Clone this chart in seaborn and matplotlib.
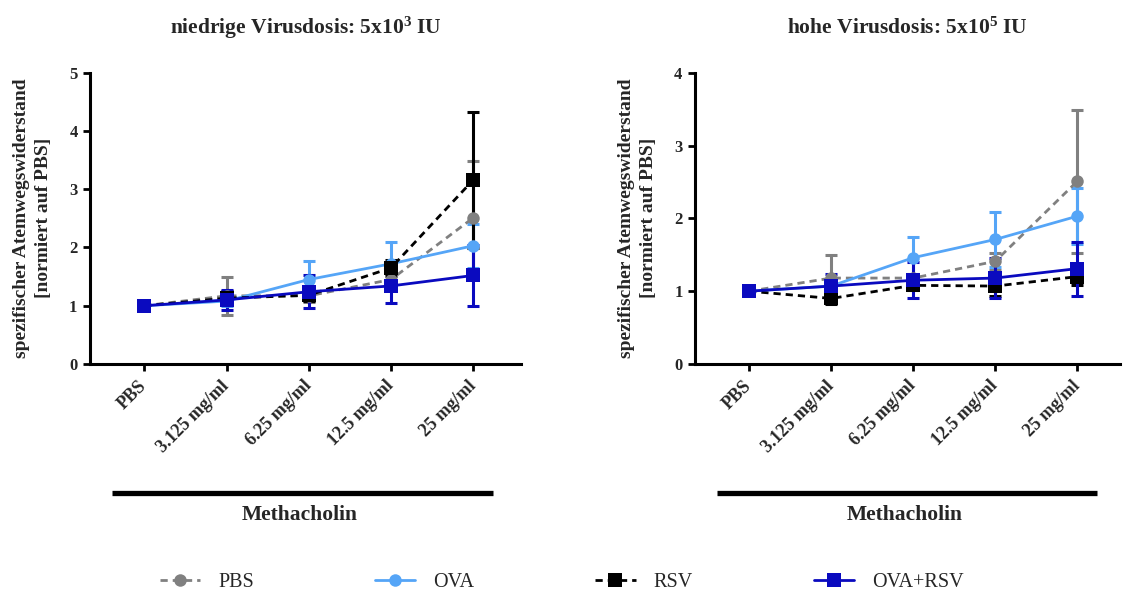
import matplotlib
matplotlib.use("Agg")
import matplotlib.pyplot as plt
from matplotlib.lines import Line2D
import seaborn as sns
import numpy as np

# Methacholin concentrations on the x axis
categories = ["PBS", "3.125 mg/ml", "6.25 mg/ml", "12.5 mg/ml", "25 mg/ml"]
groups = ["PBS", "OVA", "RSV", "OVA+RSV"]

# Low virus dose (5x10^3 IU): mean and SEM per group
pbs_low = [1.00, 1.17, 1.17, 1.45, 2.51]
pbs_low_err = [0.00, 0.33, 0.10, 0.10, 0.98]
ova_low = [1.00, 1.08, 1.45, 1.72, 2.03]
ova_low_err = [0.00, 0.08, 0.32, 0.38, 0.38]
rsv_low = [1.00, 1.13, 1.18, 1.65, 3.16]
rsv_low_err = [0.00, 0.12, 0.10, 0.14, 1.17]
ovarsv_low = [1.00, 1.10, 1.24, 1.34, 1.52]
ovarsv_low_err = [0.00, 0.17, 0.28, 0.29, 0.53]

# High virus dose (5x10^5 IU): mean and SEM per group
pbs_high = [1.00, 1.18, 1.18, 1.41, 2.51]
pbs_high_err = [0.00, 0.32, 0.05, 0.12, 0.98]
ova_high = [1.00, 1.07, 1.46, 1.71, 2.03]
ova_high_err = [0.00, 0.05, 0.29, 0.38, 0.38]
rsv_high = [1.00, 0.90, 1.08, 1.07, 1.20]
rsv_high_err = [0.00, 0.08, 0.06, 0.14, 0.12]
ovarsv_high = [1.00, 1.07, 1.15, 1.18, 1.31]
ovarsv_high_err = [0.00, 0.16, 0.25, 0.27, 0.37]

sns.set_style("ticks")
plt.rcParams["font.family"] = ["Liberation Serif", "DejaVu Serif"]
plt.rcParams["mathtext.fontset"] = "custom"
plt.rcParams["mathtext.rm"] = "Liberation Serif:bold"
plt.rcParams["mathtext.it"] = "Liberation Serif:bold"
plt.rcParams["mathtext.bf"] = "Liberation Serif:bold"

styles = {
    "PBS": dict(color="#808080", linestyle=(0, (2.6, 1.8)), marker="o", ms=9),
    "OVA": dict(color="#55A5F7", linestyle="-", marker="o", ms=9),
    "RSV": dict(color="#000000", linestyle=(0, (2.6, 1.8)), marker="s", ms=9.5),
    "OVA+RSV": dict(color="#0A0ABF", linestyle="-", marker="s", ms=9.5),
}

fig = plt.figure(figsize=(11.24, 5.96), dpi=100)
W, H = 1124, 596
ax_low = fig.add_axes([90 / W, (H - 364) / H, 431 / W, (364 - 72.7) / H])
ax_high = fig.add_axes([695 / W, (H - 364) / H, 425 / W, (364 - 72.7) / H])

x = np.arange(len(categories))


def draw_panel(ax, series, ymax, title, xlim):
    for name, (mean, err) in zip(groups, series):
        st = styles[name]
        ax.errorbar(x, mean, yerr=err, fmt="none", ecolor=st["color"],
                    elinewidth=2.2, capsize=4.3, capthick=2.2, zorder=2)
        sns.lineplot(x=x, y=mean, ax=ax, color=st["color"],
                     linestyle=st["linestyle"], linewidth=2.0,
                     marker=st["marker"], markersize=st["ms"],
                     markeredgewidth=0, label=name, zorder=3)
    ax.get_legend().remove()
    ax.set_xlim(*xlim)
    ax.set_ylim(0, ymax)
    ax.set_yticks(range(0, ymax + 1))
    ax.set_xticks(x)
    ax.set_xticklabels(categories, rotation=45, ha="right", va="center",
                       rotation_mode="anchor", fontweight="bold", fontsize=13)
    for lab in ax.get_yticklabels():
        lab.set_fontweight("bold")
        lab.set_fontsize(12)
    sns.despine(ax=ax)
    for side in ("left", "bottom"):
        ax.spines[side].set_linewidth(2.2)
        ax.spines[side].set_color("black")
    ax.tick_params(axis="both", direction="out", width=2.0, length=5, color="black")
    ax.tick_params(axis="x", pad=9)
    ax.tick_params(axis="y", pad=4)
    ax.set_ylabel("spezifischer Atemwegswiderstand\n[normiert auf PBS]",
                  fontweight="bold", fontsize=14, labelpad=12, linespacing=1.45)
    ax.set_title(title, fontweight="bold", fontsize=15.5, pad=28)


draw_panel(ax_low,
           [(pbs_low, pbs_low_err), (ova_low, ova_low_err),
            (rsv_low, rsv_low_err), (ovarsv_low, ovarsv_low_err)],
           5, r"niedrige Virusdosis: 5x10$^{3}$ IU", (-0.66, 4.58))
draw_panel(ax_high,
           [(pbs_high, pbs_high_err), (ova_high, ova_high_err),
            (rsv_high, rsv_high_err), (ovarsv_high, ovarsv_high_err)],
           4, r"hohe Virusdosis: 5x10$^{5}$ IU", (-0.66, 4.52))

# Methacholin bracket bars under the category labels
for x0, x1, xc in [(112, 493, 300), (717, 1097, 905)]:
    fig.add_artist(Line2D([x0 / W, x1 / W], [(H - 492.5) / H] * 2,
                          color="black", linewidth=3.8,
                          solid_capstyle="butt",
                          transform=fig.transFigure))
    fig.text(xc / W, (H - 515) / H, "Methacholin", ha="center", va="center",
             fontweight="bold", fontsize=15.5)

# Shared legend along the bottom
handles, labels = ax_low.get_legend_handles_labels()
fig.legend(handles, labels, ncol=4, loc="center",
           bbox_to_anchor=(562 / W, (H - 582) / H), frameon=False,
           fontsize=14.5, handlelength=2.0, handletextpad=0.9,
           columnspacing=6.0)

fig.savefig("out.png", dpi=100)
